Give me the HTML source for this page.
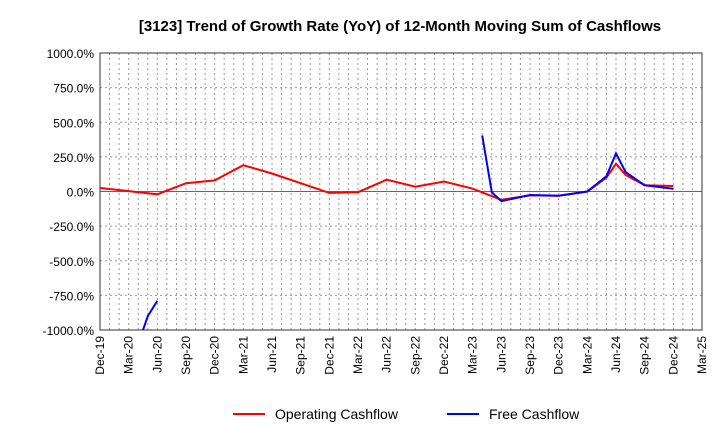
<!DOCTYPE html>
<html><head><meta charset="utf-8"><style>
body{margin:0;background:#fff;font-family:"Liberation Sans",sans-serif}
</style></head><body>
<svg width="720" height="440" xmlns="http://www.w3.org/2000/svg">
<text x="400" y="31" text-anchor="middle" font-size="15" font-weight="bold">[3123]  Trend of Growth Rate (YoY) of 12-Month Moving Sum of Cashflows</text>
<g id="grid"></g><g id="axes"></g><g id="series"></g>
<g>
<line x1="233" y1="414" x2="265" y2="414" stroke="#f00" stroke-width="2"/>
<text x="275" y="419" font-size="14">Operating Cashflow</text>
<line x1="447" y1="414" x2="479" y2="414" stroke="#00f" stroke-width="2"/>
<text x="489" y="419" font-size="14">Free Cashflow</text>
</g>
</svg>
<script>
const xLabels=["Dec-19","Mar-20","Jun-20","Sep-20","Dec-20","Mar-21","Jun-21","Sep-21","Dec-21","Mar-22","Jun-22","Sep-22","Dec-22","Mar-23","Jun-23","Sep-23","Dec-23","Mar-24","Jun-24","Sep-24","Dec-24","Mar-25"];
const yTicks=[1000,750,500,250,0,-250,-500,-750,-1000];
// month index from Dec-19
const opMonths=[0,3,6,9,12,15,18,21,24,27,30,33,36,39,42,45,48,51,53,54,55,57,60];
const opValues=[25,3,-20,60,80,190,130,60,-10,-5,85,35,72,20,-60,-28,-30,0,100,200,120,45,40];
const fcfMonths=[4,5,6,40,41,42,45,48,51,53,54,55,57,60];
const fcfValues=[-1100,-900,-790,405,-5,-70,-25,-30,0,110,275,140,45,20];
const X0=100,X1=702,Y0=53,Y1=330,NS="http://www.w3.org/2000/svg";
const xs=m=>X0+m*(X1-X0)/63;
const ys=v=>Y0+(1000-v)*(Y1-Y0)/2000;
function el(t,a,p){const e=document.createElementNS(NS,t);for(const k in a)e.setAttribute(k,a[k]);p.appendChild(e);return e;}
const grid=document.getElementById('grid'),axes=document.getElementById('axes'),ser=document.getElementById('series');
for(let m=1;m<63;m++){const l=el('line',{x1:xs(m),x2:xs(m),y1:Y0,y2:Y1,stroke:'#999','stroke-dasharray':'2,3'},grid);

}
yTicks.forEach(v=>{const l=el('line',{x1:X0,x2:X1,y1:ys(v),y2:ys(v),stroke:v===0?'#666':'#999','stroke-dasharray':v===0?'':'2,3'},grid);


const t=el('text',{x:X0-6,y:ys(v)+5,'text-anchor':'end','font-size':12},axes);
t.textContent=v.toFixed(1)+'%';

});
el('rect',{x:X0,y:Y0,width:X1-X0,height:Y1-Y0,fill:'none',stroke:'#333'},axes);
xLabels.forEach((s,i)=>{const x=xs(i*3),y=Y1+6;const t=el('text',{x:x+4,y:y,'text-anchor':'end','font-size':12,transform:`rotate(-90 ${x+4} ${y})`},axes);
t.textContent=s;

});
const cp=el('clipPath',{id:'cp'},ser);el('rect',{x:X0,y:Y0,width:X1-X0,height:Y1-Y0},cp);
function line(ms,vs,c,n){let d='';for(let i=0;i<ms.length;i++){const brk=i>0&&ms[i]-ms[i-1]>6;d+=(i===0||brk?'M':'L')+xs(ms[i]).toFixed(1)+','+ys(vs[i]).toFixed(1);}
const p=el('path',{d:d,fill:'none',stroke:c,'stroke-width':2,'clip-path':'url(#cp)'},ser);

}
line(opMonths,opValues,'#f00','operating-cashflow-line');
line(fcfMonths,fcfValues,'#00f','free-cashflow-line');
</script>
</body></html>
